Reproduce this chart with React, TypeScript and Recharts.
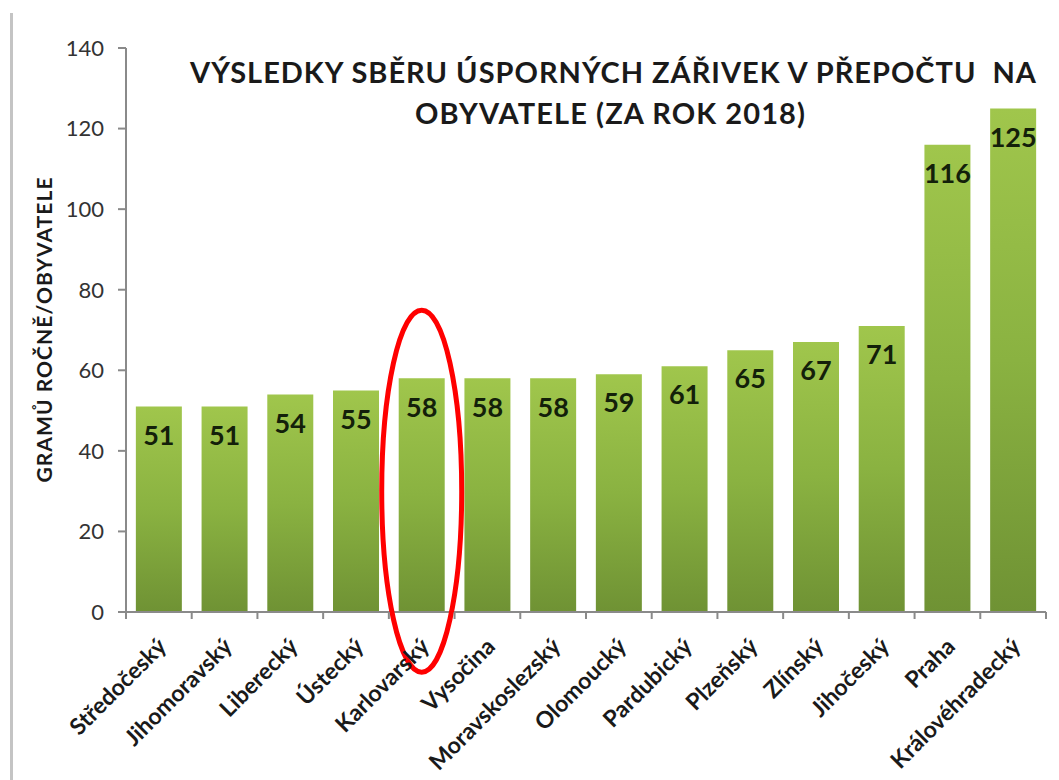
import React from 'react';
import { BarChart, Bar, XAxis, YAxis, LabelList, ReferenceDot } from 'recharts';

const regions = [
  'Středočeský', 'Jihomoravský', 'Liberecký', 'Ústecký', 'Karlovarský', 'Vysočina',
  'Moravskoslezský', 'Olomoucký', 'Pardubický', 'Plzeňský', 'Zlínský', 'Jihočeský',
  'Praha', 'Královéhradecký',
];
const gramsPerCapita = [51, 51, 54, 55, 58, 58, 58, 59, 61, 65, 67, 71, 116, 125];
const yTicks = [0, 20, 40, 60, 80, 100, 120, 140];

const titleLines = ['VÝSLEDKY SBĚRU ÚSPORNÝCH ZÁŘIVEK V PŘEPOČTU\u00a0 NA', 'OBYVATELE (ZA ROK 2018)'];
const yLabel = 'GRAMŮ ROČNĚ/OBYVATELE';
const highlighted = 'Karlovarský';

const chartData = regions.map((name, i) => ({ name, value: gramsPerCapita[i] }));

const FONT = 'Lato, "Open Sans", sans-serif';
const AXIS = '#8a8a8a';

const RegionTick = (props: any) => {
  const { x, y, payload, index } = props;
  const half = payload.offset || 0;
  const last = index === regions.length - 1;
  return (
    <g>
      <line x1={x - half} y1={y - 8} x2={x - half} y2={y - 1} stroke={AXIS} strokeWidth={2} />
      {last && <line x1={x + half} y1={y - 8} x2={x + half} y2={y - 1} stroke={AXIS} strokeWidth={2} />}
      <g transform={`translate(${x + 9},${y + 28}) rotate(-45)`}>
        <text x={0} y={0} textAnchor="end" fontFamily={FONT} fontWeight={700} fontSize={23} fill="#1a1a1a">
          {payload.value}
        </text>
      </g>
    </g>
  );
};

const YTitle = ({ viewBox }: any) => {
  const cx = viewBox.x - 4;
  const cy = 330;
  return (
    <text
      x={cx}
      y={cy}
      transform={`rotate(-90, ${cx}, ${cy})`}
      textAnchor="middle"
      fontFamily={FONT}
      fontWeight={700}
      fontSize={21}
      fill="#1a1a1a"
      textLength={305}
    >
      {yLabel}
    </text>
  );
};

const Ellipse = (props: any) => (
  <ellipse cx={props.cx} cy={props.cy} rx={40} ry={181} fill="none" stroke="#ff0000" strokeWidth={5} />
);

export default function App() {
  return (
    <div style={{ position: 'absolute', left: 0, top: 0, width: 1059, height: 780, background: '#fff' }}>
      <div style={{ position: 'absolute', left: 10, top: 13, width: 3, height: 767, background: '#c4c4c4' }} />
      <BarChart
        width={1059}
        height={780}
        data={chartData}
        margin={{ top: 48, right: 13, bottom: 0, left: 56 }}
        barCategoryGap="15%"
      >
        <defs>
          <linearGradient id="barFill" x1="0" y1="0" x2="0" y2="1">
            <stop offset="0%" stopColor="#a0c64c" />
            <stop offset="50%" stopColor="#8ab241" />
            <stop offset="100%" stopColor="#6f9234" />
          </linearGradient>
        </defs>
        <XAxis
          dataKey="name"
          height={168}
          interval={0}
          tickLine={false}
          axisLine={{ stroke: AXIS, strokeWidth: 2 }}
          tick={<RegionTick />}
        />
        <YAxis
          width={70}
          domain={[0, 140]}
          ticks={yTicks}
          interval={0}
          axisLine={{ stroke: AXIS, strokeWidth: 2 }}
          tickLine={{ stroke: AXIS, strokeWidth: 2 }}
          tickSize={8}
          tickMargin={14}
          tick={{ fontFamily: FONT, fontSize: 22, fill: '#333333' }}
          label={<YTitle />}
        />
        <Bar dataKey="value" fill="url(#barFill)" isAnimationActive={false}>
          <LabelList
            dataKey="value"
            position="insideTop"
            offset={19}
            fontFamily={FONT}
            fontWeight={700}
            fontSize={27}
            fill="#13200a"
          />
        </Bar>
        <ReferenceDot x={highlighted} y={30} r={1} shape={<Ellipse />} ifOverflow="visible" />
      </BarChart>
      <svg width={1059} height={780} style={{ position: 'absolute', left: 0, top: 0, pointerEvents: 'none' }}>
        <text x={613} y={83} textAnchor="middle" fontFamily={FONT} fontWeight={700} fontSize={29} fill="#1a1a1a" textLength={846}>
          {titleLines[0]}
        </text>
        <text x={610} y={124} textAnchor="middle" fontFamily={FONT} fontWeight={700} fontSize={29} fill="#1a1a1a" textLength={390}>
          {titleLines[1]}
        </text>
      </svg>
    </div>
  );
}
